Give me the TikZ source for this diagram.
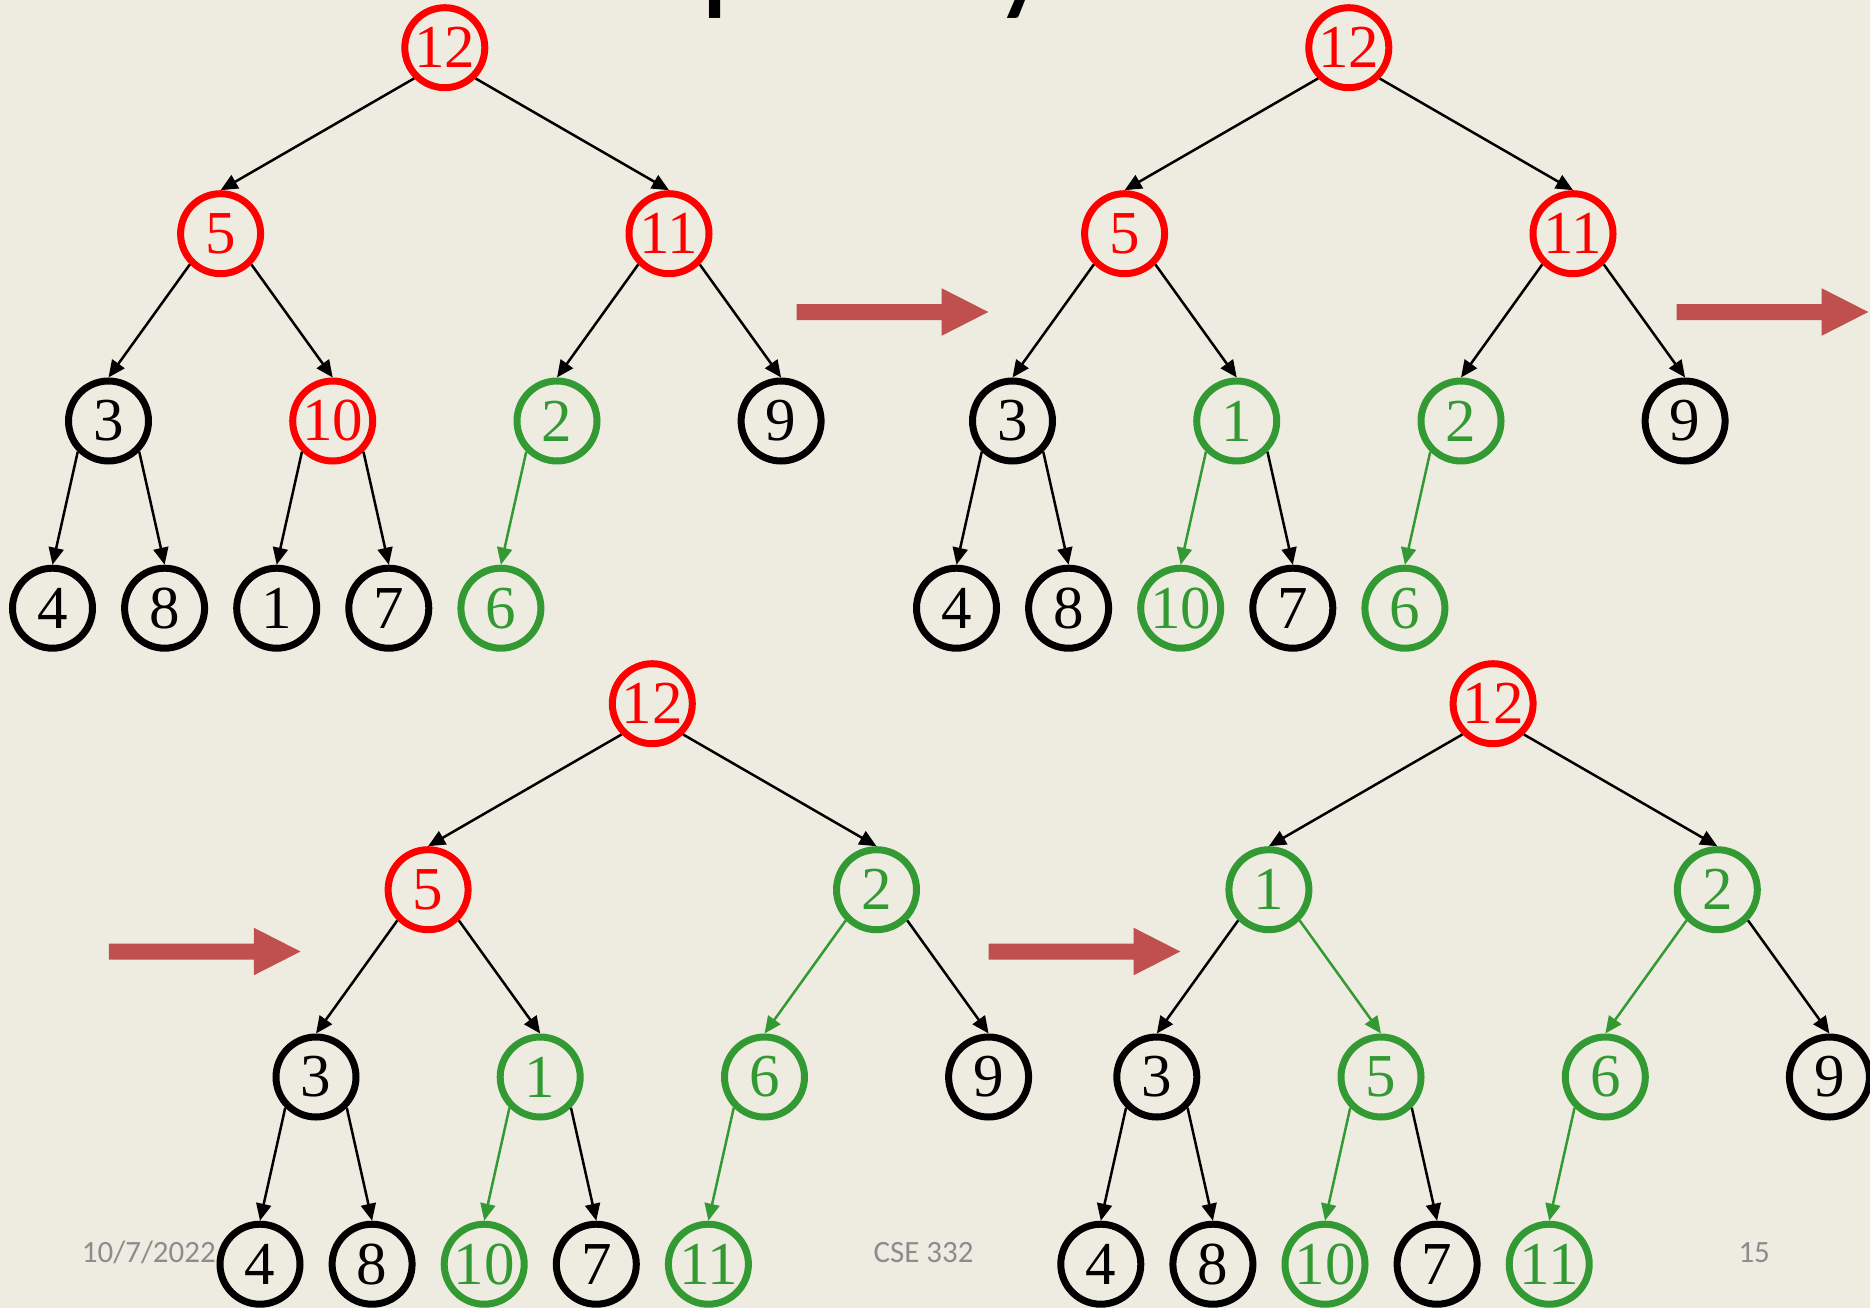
\documentclass[tikz,border=0pt]{standalone}
\usepackage{fontspec}
\setmainfont{Liberation Serif}
\newfontfamily\carlito{Carlito}
\usetikzlibrary{arrows.meta}
\definecolor{bg}{RGB}{238,236,225}
\definecolor{hred}{RGB}{255,0,0}
\definecolor{hgreen}{RGB}{51,153,51}
\definecolor{harrow}{RGB}{192,80,77}
\definecolor{footgray}{RGB}{140,140,140}
\newcommand\bigarrow[2]{\fill[harrow] (#1,{#2-8}) -- ++(145,0) -- ++(0,-15.7) -- ++(46.6,23.7) -- ++(-46.6,23.7) -- ++(0,-15.7) -- ++(-145,0) -- cycle;}
\begin{document}
\begin{tikzpicture}[x=1pt,y=-1pt,
 hn/.style={circle, minimum size=80pt, inner sep=0pt, line width=7pt, font=\fontsize{61}{61}\selectfont},
 nr/.style={hn, draw=hred, text=hred},
 nb/.style={hn, draw=black, text=black},
 ng/.style={hn, draw=hgreen, text=hgreen},
 eb/.style={line width=2.5pt, draw=black, -{Triangle[length=17pt,width=15pt]}},
 eg/.style={eb, draw=hgreen},
 foot/.style={anchor=base west, inner sep=0pt, text=footgray, font=\carlito\fontsize{31}{31}\selectfont},
 ttl/.style={anchor=base west, inner sep=0pt, text=black, font=\carlito\fontsize{130}{130}\selectfont}]
\fill[bg] (0,0) rectangle (1870,1308);
\useasboundingbox (0,0) rectangle (1870,1308);
\clip (0,0) rectangle (1870,1308);

% title remnants (only descenders visible)
\node[ttl] (tp) at (700,-2) {p};
\node[ttl] (ty) at (993,-2) {y};

% footer
\node[foot] (date) at (81.7,1262.3) {10/7/2022};
\node[foot] (course) at (873.3,1262.3) {CSE 332};
\node[foot] (page) at (1738.3,1262.3) {15};

% big arrows
\bigarrow{796.7}{312}
\bigarrow{1676.7}{312}
\bigarrow{108.9}{951.5}
\bigarrow{988.7}{951.5}

% tree A
\begin{scope}
\node[nr] (A0) at (444.8,47.7) {12};
\node[nr] (A1) at (220.6,233.7) {5};
\node[nr] (A2) at (669,233.7) {11};
\node[nb] (A3) at (108.5,421) {3};
\node[nr] (A4) at (332.7,421) {10};
\node[ng] (A5) at (557,421) {2};
\node[nb] (A6) at (781.1,421) {9};
\node[nb] (A7) at (52.5,608.2) {4};
\node[nb] (A8) at (164.6,608.2) {8};
\node[nb] (A9) at (276.7,608.2) {1};
\node[nb] (A10) at (388.8,608.2) {7};
\node[ng] (A11) at (500.9,608.2) {6};
\draw[eb] (A0.south west) -- (A1.north);
\draw[eb] (A0.south east) -- (A2.north);
\draw[eb] (A1.south west) -- (A3.north);
\draw[eb] (A1.south east) -- (A4.north);
\draw[eb] (A2.south west) -- (A5.north);
\draw[eb] (A2.south east) -- (A6.north);
\draw[eb] (A3.south west) -- (A7.north);
\draw[eb] (A3.south east) -- (A8.north);
\draw[eb] (A4.south west) -- (A9.north);
\draw[eb] (A4.south east) -- (A10.north);
\draw[eg] (A5.south west) -- (A11.north);
\end{scope}

% tree B
\begin{scope}[shift={(904,0)}]
\node[nr] (B0) at (444.8,47.7) {12};
\node[nr] (B1) at (220.6,233.7) {5};
\node[nr] (B2) at (669,233.7) {11};
\node[nb] (B3) at (108.5,421) {3};
\node[ng] (B4) at (332.7,421) {1};
\node[ng] (B5) at (557,421) {2};
\node[nb] (B6) at (781.1,421) {9};
\node[nb] (B7) at (52.5,608.2) {4};
\node[nb] (B8) at (164.6,608.2) {8};
\node[ng] (B9) at (276.7,608.2) {10};
\node[nb] (B10) at (388.8,608.2) {7};
\node[ng] (B11) at (500.9,608.2) {6};
\draw[eb] (B0.south west) -- (B1.north);
\draw[eb] (B0.south east) -- (B2.north);
\draw[eb] (B1.south west) -- (B3.north);
\draw[eb] (B1.south east) -- (B4.north);
\draw[eb] (B2.south west) -- (B5.north);
\draw[eb] (B2.south east) -- (B6.north);
\draw[eb] (B3.south west) -- (B7.north);
\draw[eb] (B3.south east) -- (B8.north);
\draw[eg] (B4.south west) -- (B9.north);
\draw[eb] (B4.south east) -- (B10.north);
\draw[eg] (B5.south west) -- (B11.north);
\end{scope}

% tree C
\begin{scope}[shift={(207.5,656)}]
\node[nr] (C0) at (444.8,47.7) {12};
\node[nr] (C1) at (220.6,233.7) {5};
\node[ng] (C2) at (669,233.7) {2};
\node[nb] (C3) at (108.5,421) {3};
\node[ng] (C4) at (332.7,421) {1};
\node[ng] (C5) at (557,421) {6};
\node[nb] (C6) at (781.1,421) {9};
\node[nb] (C7) at (52.5,608.2) {4};
\node[nb] (C8) at (164.6,608.2) {8};
\node[ng] (C9) at (276.7,608.2) {10};
\node[nb] (C10) at (388.8,608.2) {7};
\node[ng] (C11) at (500.9,608.2) {11};
\draw[eb] (C0.south west) -- (C1.north);
\draw[eb] (C0.south east) -- (C2.north);
\draw[eb] (C1.south west) -- (C3.north);
\draw[eb] (C1.south east) -- (C4.north);
\draw[eg] (C2.south west) -- (C5.north);
\draw[eb] (C2.south east) -- (C6.north);
\draw[eb] (C3.south west) -- (C7.north);
\draw[eb] (C3.south east) -- (C8.north);
\draw[eg] (C4.south west) -- (C9.north);
\draw[eb] (C4.south east) -- (C10.north);
\draw[eg] (C5.south west) -- (C11.north);
\end{scope}

% tree D
\begin{scope}[shift={(1048.3,656)}]
\node[nr] (D0) at (444.8,47.7) {12};
\node[ng] (D1) at (220.6,233.7) {1};
\node[ng] (D2) at (669,233.7) {2};
\node[nb] (D3) at (108.5,421) {3};
\node[ng] (D4) at (332.7,421) {5};
\node[ng] (D5) at (557,421) {6};
\node[nb] (D6) at (781.1,421) {9};
\node[nb] (D7) at (52.5,608.2) {4};
\node[nb] (D8) at (164.6,608.2) {8};
\node[ng] (D9) at (276.7,608.2) {10};
\node[nb] (D10) at (388.8,608.2) {7};
\node[ng] (D11) at (500.9,608.2) {11};
\draw[eb] (D0.south west) -- (D1.north);
\draw[eb] (D0.south east) -- (D2.north);
\draw[eb] (D1.south west) -- (D3.north);
\draw[eg] (D1.south east) -- (D4.north);
\draw[eg] (D2.south west) -- (D5.north);
\draw[eb] (D2.south east) -- (D6.north);
\draw[eb] (D3.south west) -- (D7.north);
\draw[eb] (D3.south east) -- (D8.north);
\draw[eg] (D4.south west) -- (D9.north);
\draw[eb] (D4.south east) -- (D10.north);
\draw[eg] (D5.south west) -- (D11.north);
\end{scope}
\end{tikzpicture}
\end{document}
